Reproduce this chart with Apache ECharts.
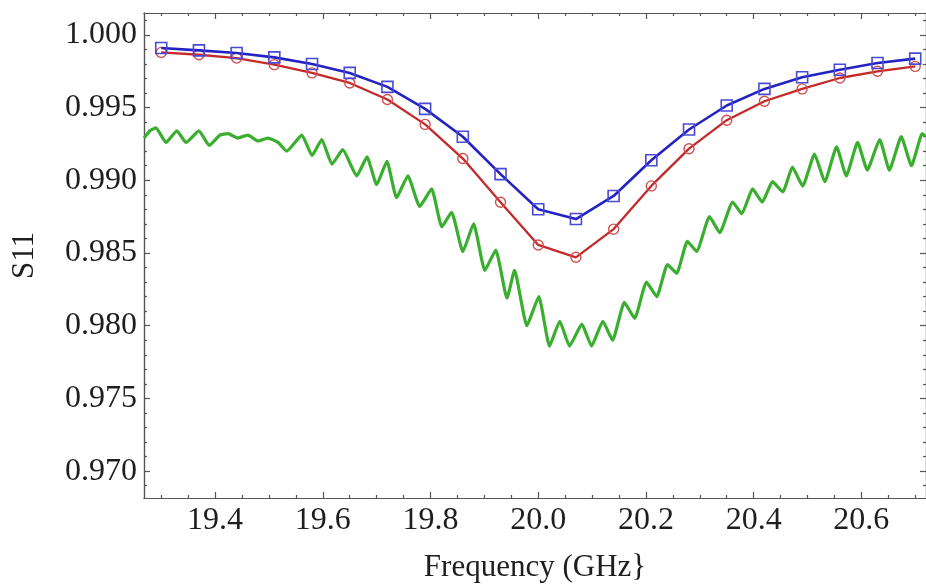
<!DOCTYPE html>
<html>
<head>
<meta charset="utf-8">
<script src="https://cdn.jsdelivr.net/npm/echarts@6/dist/echarts.min.js"></script>
<style>
    html, body { margin: 0; padding: 0; background: #fff; }
    #chart { width: 926px; height: 588px; }
</style>
</head>
<body>
<div id="chart"></div>
<script>
// marker frequencies (GHz), shared by both fitted curves
var markerFreq = [19.30, 19.37, 19.44, 19.51, 19.58, 19.65, 19.72, 19.79, 19.86, 19.93, 20.00,
    20.07, 20.14, 20.21, 20.28, 20.35, 20.42, 20.49, 20.56, 20.63, 20.70];

var blueS11 = [0.99909, 0.99893, 0.99875, 0.99845, 0.99799, 0.99738, 0.99642, 0.99491, 0.99299, 0.99042, 0.98801,
    0.98733, 0.98892, 0.99137, 0.99349, 0.99514, 0.99628, 0.99708, 0.99760, 0.99806, 0.99836];

var redS11 = [0.99879, 0.99863, 0.99840, 0.99795, 0.99738, 0.99669, 0.99555, 0.99384, 0.99149, 0.98849, 0.98555,
    0.98470, 0.98664, 0.98961, 0.99217, 0.99413, 0.99543, 0.99628, 0.99703, 0.99749, 0.99783];

// measured trace (green)
var greenFreq = [19.268, 19.279, 19.290, 19.309, 19.329, 19.346, 19.370, 19.389, 19.409, 19.424,
    19.442, 19.461, 19.480, 19.498, 19.517, 19.533, 19.561, 19.580, 19.598, 19.617,
    19.637, 19.663, 19.682, 19.700, 19.719, 19.737, 19.758, 19.780, 19.802, 19.821,
    19.839, 19.860, 19.880, 19.901, 19.921, 19.942, 19.956, 19.979, 20.001, 20.021,
    20.040, 20.058, 20.081, 20.099, 20.120, 20.138, 20.160, 20.179, 20.201, 20.220,
    20.240, 20.257, 20.277, 20.294, 20.318, 20.337, 20.361, 20.378, 20.398, 20.416,
    20.435, 20.454, 20.472, 20.491, 20.513, 20.532, 20.554, 20.572, 20.593, 20.611,
    20.634, 20.652, 20.674, 20.693, 20.713, 20.719];

var greenS11 = [0.9929, 0.9934, 0.9936, 0.9926, 0.9934, 0.9926, 0.9934, 0.9924, 0.9931, 0.9932,
    0.9929, 0.9931, 0.9927, 0.9929, 0.9926, 0.9920, 0.9931, 0.9917, 0.9928, 0.9911,
    0.9921, 0.9903, 0.9916, 0.9897, 0.9913, 0.9888, 0.9903, 0.9882, 0.9894, 0.9868,
    0.9878, 0.9851, 0.9870, 0.9838, 0.9852, 0.9819, 0.9838, 0.9800, 0.9820, 0.9786,
    0.9803, 0.9786, 0.9801, 0.9786, 0.9803, 0.9790, 0.9816, 0.9805, 0.9830, 0.9820,
    0.9842, 0.9836, 0.9858, 0.9851, 0.9875, 0.9864, 0.9885, 0.9877, 0.9894, 0.9885,
    0.9899, 0.9892, 0.9909, 0.9896, 0.9918, 0.9899, 0.9923, 0.9903, 0.9926, 0.9907,
    0.9928, 0.9907, 0.9930, 0.9910, 0.9932, 0.9930];

// tick labels
var xTicks = [19.4, 19.6, 19.8, 20.0, 20.2, 20.4, 20.6];
var xMinorTicks = [19.3, 19.35, 19.45, 19.5, 19.55, 19.65, 19.7, 19.75, 19.85, 19.9, 19.95,
    20.05, 20.1, 20.15, 20.25, 20.3, 20.35, 20.45, 20.5, 20.55, 20.65, 20.7];
var yTicks = [0.970, 0.975, 0.980, 0.985, 0.990, 0.995, 1.000];
var yMinorTicks = [0.969, 0.971, 0.972, 0.973, 0.974, 0.976, 0.977, 0.978, 0.979, 0.981, 0.982, 0.983, 0.984,
    0.986, 0.987, 0.988, 0.989, 0.991, 0.992, 0.993, 0.994, 0.996, 0.997, 0.998, 0.999, 1.001];

var X_MIN = 19.268, X_MAX = 20.72;
var Y_MIN = 0.96815, Y_MAX = 1.0015;

function zip(xs, ys) {
    var out = [];
    for (var i = 0; i < xs.length; i++) out.push([xs[i], ys[i]]);
    return out;
}

var axisColor = '#555';
var labelFont = { fontFamily: 'Liberation Serif', fontSize: 32, color: '#1e1e1e' };
var nameFont = { fontFamily: 'Liberation Serif', fontSize: 31, color: '#1e1e1e' };

function frameAxis(pos, values, len, showLabel, isY) {
    var ax = {
        type: 'value',
        position: pos,
        min: isY ? Y_MIN : X_MIN,
        max: isY ? Y_MAX : X_MAX,
        splitLine: { show: false },
        axisLine: { show: true, lineStyle: { color: axisColor, width: 1.2 } },
        axisTick: { show: true, inside: true, length: len, customValues: values, lineStyle: { color: axisColor, width: 1.2 } },
        axisLabel: { show: false }
    };
    if (showLabel) {
        ax.axisLabel = Object.assign({
            show: true,
            customValues: values,
            margin: 7,
            formatter: function (v) { return isY ? v.toFixed(3) : v.toFixed(1); }
        }, labelFont);
    }
    return ax;
}

var xMain = frameAxis('bottom', xTicks, 6, true, false);
xMain.name = 'Frequency (GHz}';
xMain.nameLocation = 'middle';
xMain.nameGap = 54;
xMain.nameTextStyle = nameFont;

var yMain = frameAxis('left', yTicks, 6, true, true);
yMain.name = 'S11';
yMain.nameLocation = 'middle';
yMain.nameGap = 104;
yMain.nameTextStyle = nameFont;

var chart = echarts.init(document.getElementById('chart'));
chart.setOption({
    animation: false,
    backgroundColor: '#fff',
    grid: { left: 144, top: 13, right: -2, bottom: 90 },
    xAxis: [
        xMain,
        frameAxis('bottom', xMinorTicks, 3, false, false),
        frameAxis('top', xTicks, 6, false, false),
        frameAxis('top', xMinorTicks, 3, false, false)
    ],
    yAxis: [
        yMain,
        frameAxis('left', yMinorTicks, 3, false, true),
        frameAxis('right', yTicks, 6, false, true),
        frameAxis('right', yMinorTicks, 3, false, true)
    ],
    series: [
        {
            name: 'measured',
            type: 'line',
            data: zip(greenFreq, greenS11),
            showSymbol: false,
            smooth: 0.15,
            lineStyle: { color: '#3aae2e', width: 3.2 },
            z: 1
        },
        {
            name: 'red',
            type: 'line',
            data: zip(markerFreq, redS11),
            symbol: 'circle',
            symbolSize: 10,
            itemStyle: { color: 'rgba(0,0,0,0)', borderColor: '#d05050', borderWidth: 1.4 },
            lineStyle: { color: '#c42a2a', width: 2.3 },
            z: 2
        },
        {
            name: 'blue',
            type: 'line',
            data: zip(markerFreq, blueS11),
            symbol: 'rect',
            symbolSize: 11,
            itemStyle: { color: 'rgba(0,0,0,0)', borderColor: '#4a4ad2', borderWidth: 1.6 },
            lineStyle: { color: '#2323c4', width: 2.6 },
            z: 3
        }
    ]
});
</script>
</body>
</html>
